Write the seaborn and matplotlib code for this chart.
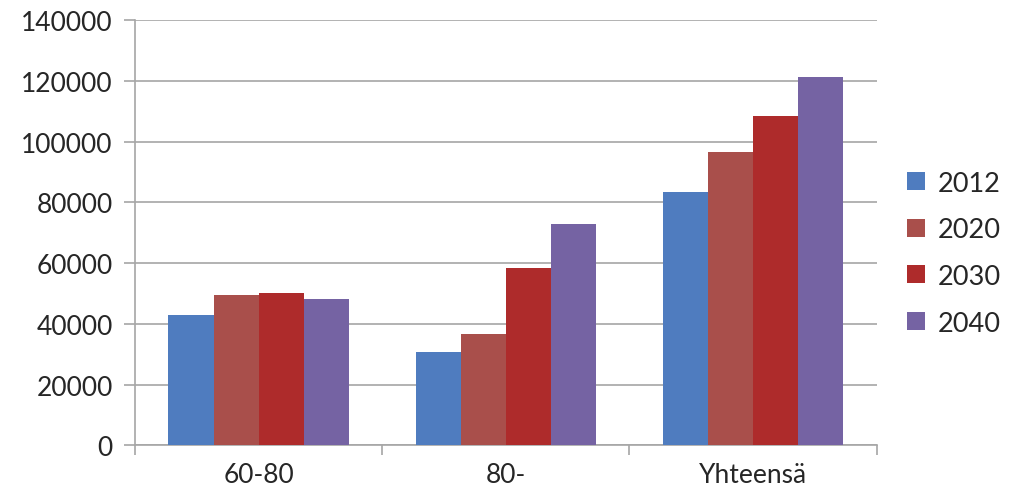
# Bar chart: population by age group and year
import pandas as pd
import matplotlib
matplotlib.use('Agg')
import matplotlib.pyplot as plt
from matplotlib.patches import Patch
import seaborn as sns

# DATA ------------
categories = ['60-80', '80-', 'Yhteensä']
years = ['2012', '2020', '2030', '2040']
values_2012 = [42800, 30600, 83400]
values_2020 = [49400, 36600, 96500]
values_2030 = [50100, 58300, 108400]
values_2040 = [48100, 72800, 121300]
colors = ['#4F7CBF', '#A94F4B', '#AE2B2B', '#7563A3']

series = [values_2012, values_2020, values_2030, values_2040]
df = pd.DataFrame(
    [(c, y, v) for y, vals in zip(years, series) for c, v in zip(categories, vals)],
    columns=['ika', 'vuosi', 'arvo']
)

# PLOT ------------
sns.set_style('white')
plt.rcParams['font.family'] = ['Lato', 'DejaVu Sans']
text_color = '#262626'

fig = plt.figure(figsize=(10.1, 5.02), dpi=100)
ax = fig.add_axes([0.1337, 0.111, 0.7343, 0.847])

sns.barplot(data=df, x='ika', y='arvo', hue='vuosi', palette=colors,
            width=0.73, gap=0, saturation=1, linewidth=0, ax=ax,
            legend=False, zorder=3)

ax.set_ylim(0, 140000)
ax.set_yticks(range(0, 140001, 20000))
ax.set_xlim(-0.5, 2.5)
ax.yaxis.grid(True, color='#A6A6A6', linewidth=1.2, zorder=0)
ax.set_axisbelow(True)
ax.set_xlabel('')
ax.set_ylabel('')

for side in ['top', 'right']:
    ax.spines[side].set_visible(False)
for side in ['left', 'bottom']:
    ax.spines[side].set_color('#A6A6A6')
    ax.spines[side].set_linewidth(1.2)

ax.tick_params(axis='y', length=8, color='#A6A6A6', width=1.2, labelsize=19,
               labelcolor=text_color, pad=8, left=True)
ax.tick_params(axis='x', which='major', length=0, labelsize=19,
               labelcolor=text_color, pad=12)
ax.set_xticks([-0.5, 0.5, 1.5, 2.5], minor=True)
ax.tick_params(axis='x', which='minor', length=7, color='#A6A6A6', width=1.2, bottom=True)

handles = [Patch(facecolor=c, edgecolor='none') for c in colors]
leg = fig.legend(handles, years, loc='center left', bbox_to_anchor=(0.898, 0.494),
                 frameon=False, fontsize=19.5, handlelength=0.65, handleheight=0.65,
                 handletextpad=0.5, labelspacing=0.8, borderpad=0, borderaxespad=0)
for t in leg.get_texts():
    t.set_color(text_color)

fig.savefig('out.png', dpi=100)
